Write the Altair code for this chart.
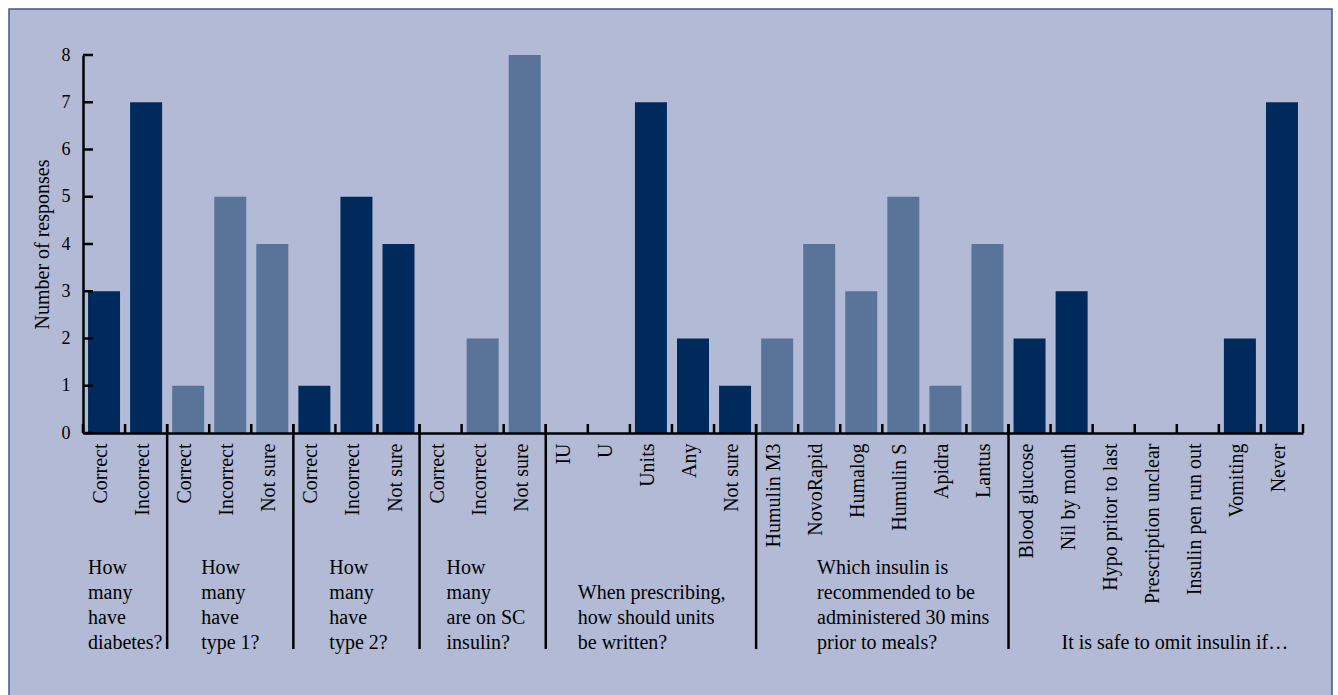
import altair as alt
import pandas as pd

group_titles = [
    "How\nmany\nhave\ndiabetes?",
    "How\nmany\nhave\ntype 1?",
    "How\nmany\nhave\ntype 2?",
    "How\nmany\nare on SC\ninsulin?",
    "When prescribing,\nhow should units\nbe written?",
    "Which insulin is\nrecommended to be\nadministered 30 mins\nprior to meals?",
    "It is safe to omit insulin if\u2026",
]
group_items = [
    ["Correct", "Incorrect"],
    ["Correct", "Incorrect", "Not sure"],
    ["Correct", "Incorrect", "Not sure"],
    ["Correct", "Incorrect", "Not sure"],
    ["IU", "U", "Units", "Any", "Not sure"],
    ["Humulin M3", "NovoRapid", "Humalog", "Humulin S", "Apidra", "Lantus"],
    ["Blood glucose", "Nil by mouth", "Hypo pritor to last", "Prescription unclear",
     "Insulin pen run out", "Vomiting", "Never"],
]
group_values = [
    [3, 7],
    [1, 5, 4],
    [1, 5, 4],
    [0, 2, 8],
    [0, 0, 7, 2, 1],
    [2, 4, 3, 5, 1, 4],
    [2, 3, 0, 0, 0, 2, 7],
]
group_shades = ["dark", "mid", "dark", "mid", "dark", "mid", "dark"]
y_ticks = list(range(9))

DARK = "#002a5c"
MID = "#5a7499"
BG = "#b2bad5"
BORDER = "#3b5b8c"
FONT = "Liberation Serif"

rows = []
for gi, (items, vals) in enumerate(zip(group_items, group_values)):
    for it, v in zip(items, vals):
        rows.append({"key": f"{gi}|{it}", "label": it, "value": v,
                     "group": gi, "shade": group_shades[gi]})
df = pd.DataFrame(rows)
keys = list(df["key"])

W, H = 1220, 378

xscale = alt.Scale(domain=keys, paddingInner=0, paddingOuter=0)
xaxis = alt.Axis(
    labelExpr="split(datum.value, '|')[1]", labelAngle=270, labelFontSize=20,
    labelFont=FONT, labelColor="black", labelPadding=10, ticks=False, tickSize=0,
    domainColor="black", domainWidth=2.5, labelAlign="right",
    labelBaseline="middle", labelOffset=-3, grid=False, zindex=2,
)


def make_x(band=None):
    if band is None:
        return alt.X("key:N", scale=xscale, sort=keys, axis=xaxis, title=None)
    return alt.X("key:N", scale=xscale, sort=keys, axis=xaxis, title=None,
                 bandPosition=band)


y_enc = alt.Y(
    "value:Q", scale=alt.Scale(domain=[0, 8], nice=False),
    axis=alt.Axis(values=y_ticks, ticks=False, tickSize=0, grid=False,
                  domainColor="black", domainWidth=2.5, labelFontSize=18,
                  labelFont=FONT, labelColor="black", labelPadding=13,
                  titleFont=FONT, titleFontSize=20, titleFontWeight="normal",
                  titleColor="black", titlePadding=9, zindex=2),
    title="Number of responses",
)

frame = alt.Chart(pd.DataFrame({"a": [0]})).mark_rect(
    fill=BG, stroke=BORDER, strokeWidth=1.5
).encode(x=alt.value(-74), x2=alt.value(1249), y=alt.value(-46), y2=alt.value(660))

bars = alt.Chart(df).mark_bar(size=32).encode(
    x=make_x(),
    y=y_enc,
    color=alt.Color("shade:N", scale=alt.Scale(domain=["dark", "mid"], range=[DARK, MID]),
                    legend=None),
)

ytick_df = pd.DataFrame({"value": y_ticks})
yticks = alt.Chart(ytick_df).mark_rule(color="black", strokeWidth=2.5).encode(
    y=y_enc, x=alt.value(0), x2=alt.value(10)
)

xticks = alt.Chart(df).mark_rule(color="black", strokeWidth=2.5).encode(
    x=make_x(0), y=alt.value(H), y2=alt.value(H - 9)
)
xtick_last = alt.Chart(df.iloc[[-1]]).mark_rule(color="black", strokeWidth=2.5).encode(
    x=make_x(1), y=alt.value(H), y2=alt.value(H - 9)
)

first_keys = [f"{gi}|{items[0]}" for gi, items in enumerate(group_items)]
sep_df = pd.DataFrame({"key": first_keys[1:]})
seps = alt.Chart(sep_df).mark_rule(color="black", strokeWidth=2.5).encode(
    x=make_x(0), y=alt.value(H - 9), y2=alt.value(594)
)

label_dx = [5, 34, 36, 27, 32, 61, 53]
LAST_BASELINE = 594
LINE_H = 25
glabels = []
for gi, (k, t) in enumerate(zip(first_keys, group_titles)):
    n_lines = t.count("\n") + 1
    gdf = pd.DataFrame({"key": [k], "title": [t]})
    glabels.append(
        alt.Chart(gdf).mark_text(
            align="left", baseline="alphabetic", lineBreak="\n", fontSize=20,
            font=FONT, lineHeight=LINE_H, dx=label_dx[gi], color="black"
        ).encode(x=make_x(0), y=alt.value(LAST_BASELINE - (n_lines - 1) * LINE_H),
                 text="title:N")
    )

chart = alt.layer(frame, bars, yticks, xticks, xtick_last, seps, *glabels).properties(
    width=W, height=H,
    autosize=alt.AutoSizeParams(type="none"),
    padding={"left": 83, "top": 55, "right": 35, "bottom": 262},
    background="white",
).configure(font=FONT).configure_view(strokeWidth=0)

chart.save("out.html", embed_options={"renderer": "svg", "actions": False})
